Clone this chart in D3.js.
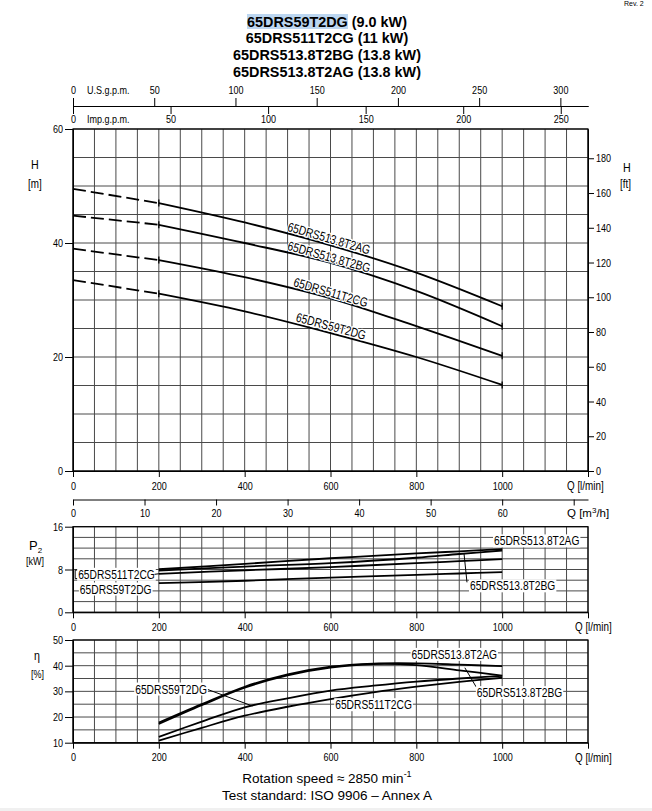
<!DOCTYPE html>
<html>
<head>
<meta charset="utf-8">
<script src="https://cdn.jsdelivr.net/npm/d3@7"></script>
<style>
  body { margin: 0; background: #fff; }
  .grid line { stroke: #4a4a4a; stroke-width: 1; }
  .curve { fill: none; stroke: #000; stroke-width: 1.8; }
</style>
</head>
<body>
<svg id="chart" width="652" height="811"></svg>
<script>
// ---- data ----
var models = ["65DRS513.8T2AG", "65DRS513.8T2BG", "65DRS511T2CG", "65DRS59T2DG"];
var titleNames = ["65DRS59T2DG", "65DRS511T2CG", "65DRS513.8T2BG", "65DRS513.8T2AG"];
var titlePowers = [" (9.0 kW)", " (11 kW)", " (13.8 kW)", " (13.8 kW)"];

// head curves, Q [l/min] -> H [m]
var qHead = [0, 200, 400, 600, 800, 1000];
var headAG = [49.5, 47.0, 43.6, 39.6, 34.8, 28.9];
var headBG = [44.8, 43.2, 40.0, 36.5, 31.6, 25.4];
var headCG = [39.0, 37.0, 34.0, 30.3, 25.4, 20.2];
var headDG = [33.5, 31.1, 28.0, 24.2, 20.0, 15.1];

// power P2 [kW]
var qPower = [200, 400, 600, 800, 900, 1000];
var powAG = [8.05, 9.05, 10.1, 11.0, 11.4, 11.8];
var powBG = [7.8, 8.55, 9.2, 10.2, 10.9, 11.55];
var powCG = [7.2, 7.85, 8.45, 9.2, 9.55, 9.95];
var powDG = [5.45, 5.9, 6.5, 7.0, 7.25, 7.5];

// efficiency [%]
var qEff = [200, 300, 400, 500, 600, 700, 800, 900, 1000];
var effAG = [17.8, 25.0, 31.8, 36.6, 39.6, 40.8, 40.9, 40.4, 39.8];
var effBG = [17.3, 24.6, 31.4, 36.2, 39.2, 40.6, 40.2, 38.2, 36.1];
var effCG = [10.8, 15.8, 20.5, 24.0, 27.0, 29.6, 31.8, 33.7, 35.3];
var effDG = [12.3, 18.2, 23.8, 27.3, 30.3, 32.2, 33.8, 35.0, 36.0];

// tick labels
var qTicks = [0, 200, 400, 600, 800, 1000, 1200];
var usTicks = [0, 50, 100, 150, 200, 250, 300];
var impTicks = [0, 50, 100, 150, 200, 250];
var m3hTicks = [0, 10, 20, 30, 40, 50, 60, 70];
var ftTicks = [0, 20, 40, 60, 80, 100, 120, 140, 160, 180];
var hTicks = [0, 20, 40, 60];
var pTicks = [0, 8, 16];
var eTicks = [10, 20, 30, 40, 50];

var NARROW = "'Liberation Sans Narrow','Arial Narrow','Liberation Sans',Arial,sans-serif";
var SANS = "'Liberation Sans',Arial,sans-serif";

var svg = d3.select("#chart");

// no narrow face installed, so squeeze the glyphs instead
function condense(sel, k) {
  sel.each(function() {
    var len = this.getComputedTextLength();
    if (len > 0) d3.select(this).attr("textLength", len * (k || 0.82)).attr("lengthAdjust", "spacingAndGlyphs");
  });
  return sel;
}

// scales
var x = d3.scaleLinear().domain([0, 1200]).range([73, 588]);
var xUs = d3.scaleLinear().domain([0, 1200 / 3.7854]).range([73, 588]);
var xImp = d3.scaleLinear().domain([0, 1200 / 4.5461]).range([73, 588]);
var xM3 = d3.scaleLinear().domain([0, 72]).range([73, 588]);
var yH = d3.scaleLinear().domain([0, 60]).range([471, 129]);
var yFt = d3.scaleLinear().domain([0, 60 / 0.3048]).range([471, 129]);
var yP = d3.scaleLinear().domain([0, 16]).range([612.3, 526.7]);
var yE = d3.scaleLinear().domain([10, 50]).range([742.7, 640]);

// ---- title ----
svg.append("rect").attr("x", 247).attr("y", 14).attr("width", 101).attr("height", 15).attr("fill", "#bcd6f0");
titleNames.forEach(function(n, i) {
  var t = svg.append("text").attr("x", 327).attr("y", 26.7 + i * 16.7)
    .attr("text-anchor", "middle").attr("font-family", SANS).attr("font-weight", "bold").attr("font-size", 14.4);
  t.append("tspan").text(n);
  t.append("tspan").text(titlePowers[i]);
});
svg.append("text").attr("x", 624).attr("y", 6).attr("font-family", SANS).attr("font-size", 7).text("Rev. 2");

function styleAxis(g, size) {
  g.attr("font-family", NARROW).attr("font-size", size);
  g.selectAll("line,path").attr("stroke", "#000");
  g.selectAll("text").attr("fill", "#000");
  condense(g.selectAll("text"));
  return g;
}

function grid(yScale, step) {
  var d = yScale.domain();
  var g = svg.append("g").attr("class", "grid");
  g.selectAll(".v").data(d3.range(0, 1201, 50)).join("line").attr("class", "v")
    .attr("x1", function(q) { return x(q); }).attr("x2", function(q) { return x(q); })
    .attr("y1", yScale(d[0])).attr("y2", yScale(d[1]));
  g.selectAll(".h").data(d3.range(d[0], d[1] + 0.001, step)).join("line").attr("class", "h")
    .attr("x1", x(0)).attr("x2", x(1200))
    .attr("y1", function(v) { return yScale(v); }).attr("y2", function(v) { return yScale(v); });
  svg.append("rect").attr("x", x(0)).attr("y", yScale(d[1]))
    .attr("width", x(1200) - x(0)).attr("height", yScale(d[0]) - yScale(d[1]))
    .attr("fill", "none").attr("stroke", "#000").attr("stroke-width", 1.2);
}

function bottomAxis(yScale, padding) {
  var y0 = yScale(yScale.domain()[0]);
  svg.append("g").attr("transform", "translate(0," + y0 + ")")
    .call(d3.axisBottom(x).tickValues(qTicks).tickFormat(function(d) { return d === 1200 ? "" : d; })
      .tickSize(6).tickPadding(padding).tickSizeOuter(0))
    .call(styleAxis, 11);
}

function leftAxis(yScale, ticks) {
  svg.append("g").attr("transform", "translate(" + x(0) + ",0)")
    .call(d3.axisLeft(yScale).tickValues(ticks).tickSize(8).tickPadding(2).tickSizeOuter(0))
    .call(styleAxis, 11);
}

function unitText(px, py, parts, size, squeeze) {
  var t = svg.append("text").attr("x", px).attr("y", py).attr("font-family", NARROW).attr("font-size", size || 11);
  parts.forEach(function(p) {
    var s = t.append("tspan").text(p[0]);
    if (p[1] === "sup") s.attr("font-size", 8).attr("dy", -4);
    if (p[1] === "sub") s.attr("font-size", 8).attr("dy", 3);
    if (p[1] === "back") s.attr("dy", 4);
  });
  if (squeeze !== false) condense(t);
  return t;
}

// ---- top flow axes ----
svg.append("g").attr("transform", "translate(0,106)")
  .call(d3.axisTop(xUs).tickValues(usTicks).tickSize(8).tickPadding(4).tickSizeOuter(0))
  .call(styleAxis, 11);
svg.append("g").attr("transform", "translate(0,106)")
  .call(d3.axisBottom(xImp).tickValues(impTicks).tickSize(8).tickPadding(1).tickSizeOuter(0))
  .call(styleAxis, 11);
unitText(87, 94, [["U.S.g.p.m."]], 11);
unitText(87, 123, [["Imp.g.p.m."]], 11);

// ---- head chart ----
grid(yH, 5);
leftAxis(yH, hTicks);
bottomAxis(yH, 5);
svg.append("g").attr("transform", "translate(" + x(1200) + ",0)")
  .call(d3.axisRight(yFt).tickValues(ftTicks).tickSize(6).tickPadding(2).tickSizeOuter(0))
  .call(styleAxis, 11);
unitText(567, 489.8, [["Q [l/min]"]], 12);
unitText(31, 169, [["H"]], 13);
unitText(28, 188, [["[m]"]], 12);
unitText(623, 172, [["H"]], 13);
unitText(620, 188, [["[ft]"]], 12);

var heads = [headAG, headBG, headCG, headDG];
var lineH = d3.line().x(function(d) { return x(d[0]); }).y(function(d) { return yH(d[1]); }).curve(d3.curveCatmullRom);
heads.forEach(function(h) {
  var pts = qHead.map(function(q, i) { return [q, h[i]]; });
  svg.append("path").attr("class", "curve").attr("stroke-dasharray", "13,5")
    .attr("d", lineH(pts.filter(function(p) { return p[0] <= 200; })));
  svg.append("path").attr("class", "curve")
    .attr("d", lineH(pts.filter(function(p) { return p[0] >= 200; })));
  [200, 1000].forEach(function(q) {
    var v = h[qHead.indexOf(q)];
    svg.append("line").attr("x1", x(q)).attr("x2", x(q))
      .attr("y1", yH(v) - 3.5).attr("y2", yH(v) + 3.5).attr("stroke", "#000").attr("stroke-width", 1.3);
  });
});

// rotated labels along head curves
var headLabelStart = [498, 498, 512, 518];
heads.forEach(function(h, i) {
  var interp = d3.scaleLinear().domain(qHead).range(h);
  var q0 = headLabelStart[i], q1 = q0 + 195;
  var x0 = x(q0), y0 = yH(interp(q0)), x1 = x(q1), y1 = yH(interp(q1));
  var ang = Math.atan2(y1 - y0, x1 - x0) * 180 / Math.PI;
  var t = svg.append("text")
    .attr("transform", "translate(" + x0 + "," + (y0 - 3) + ") rotate(" + ang + ")")
    .attr("font-family", NARROW).attr("font-size", 12.8)
    .attr("stroke", "#fff").attr("stroke-width", 2.5).attr("paint-order", "stroke")
    .text(models[i]);
  condense(t, 0.8);
});

// ---- m3/h axis ----
svg.append("g").attr("transform", "translate(0,499.5)")
  .call(d3.axisBottom(xM3).tickValues(m3hTicks).tickFormat(function(d) { return d === 70 ? "" : d; })
    .tickSize(6).tickPadding(4).tickSizeOuter(0))
  .call(styleAxis, 11);
unitText(567, 517.3, [["Q [m"], ["3", "sup"], ["/h]", "back"]], 11.5, false);

// ---- power chart ----
grid(yP, 2);
leftAxis(yP, pTicks);
bottomAxis(yP, 5);
unitText(575, 631, [["Q [l/min]"]], 12);
unitText(29, 550, [["P"], ["2", "sub"]], 13, false);
unitText(26, 565, [["[kW]"]], 11);

function boxLabel(text, q, cy, yScale) {
  var t = svg.append("text").attr("x", x(q)).attr("y", yScale(cy) + 4.5)
    .attr("font-family", NARROW).attr("font-size", 12.8).text(text);
  condense(t, 0.8);
  var b = t.node().getBBox();
  svg.insert("rect", function() { return t.node(); })
    .attr("x", b.x - 1).attr("y", b.y + 1).attr("width", b.width + 2).attr("height", b.height - 2)
    .attr("fill", "#fff");
  return b;
}
function pointer(q0, v0, q1, v1, yScale) {
  svg.append("line").attr("x1", x(q0)).attr("y1", yScale(v0)).attr("x2", x(q1)).attr("y2", yScale(v1))
    .attr("stroke", "#000").attr("stroke-width", 1);
}

var pows = [powAG, powBG, powCG, powDG];
var lineP = d3.line().x(function(d) { return x(d[0]); }).y(function(d) { return yP(d[1]); }).curve(d3.curveCatmullRom);
pows.forEach(function(p) {
  svg.append("path").attr("class", "curve").attr("stroke-width", 1.7)
    .attr("d", lineP(qPower.map(function(q, i) { return [q, p[i]]; })));
});
pointer(911, 11.05, 918, 5.6, yP);
pointer(5, 7.9, 5, 6.3, yP);
pointer(5, 7.9, 11, 7.9, yP);
pointer(5, 6.3, 11, 6.3, yP);
boxLabel(models[0], 981, 13.35, yP);
boxLabel(models[1], 925, 4.95, yP);
boxLabel(models[2], 12, 7.1, yP);
boxLabel(models[3], 16, 4.35, yP);
pointer(190, 7.1, 200, 7.2, yP);

// ---- efficiency chart ----
grid(yE, 5);
leftAxis(yE, eTicks);
bottomAxis(yE, 5);
unitText(575, 761.5, [["Q [l/min]"]], 12);
unitText(34, 660, [["\u03b7"]], 13);
unitText(31, 678, [["[%]"]], 11);

var effs = [effAG, effBG, effCG, effDG];
var lineE = d3.line().x(function(d) { return x(d[0]); }).y(function(d) { return yE(d[1]); }).curve(d3.curveCatmullRom);
effs.forEach(function(e) {
  svg.append("path").attr("class", "curve").attr("stroke-width", 1.7)
    .attr("d", lineE(qEff.map(function(q, i) { return [q, e[i]]; })));
});
pointer(913, 39.2, 942, 31.0, yE);
pointer(311, 30.9, 418, 24.3, yE);
boxLabel(models[0], 789, 44.4, yE);
boxLabel(models[1], 941, 29.5, yE);
boxLabel(models[2], 611, 24.8, yE);
boxLabel(models[3], 145, 30.9, yE);

// ---- footer ----
var f1 = svg.append("text").attr("x", 327).attr("y", 783).attr("text-anchor", "middle")
  .attr("font-family", SANS).attr("font-size", 13.5);
f1.append("tspan").text("Rotation speed \u2248 2850 min");
f1.append("tspan").attr("font-size", 9).attr("dy", -6).text("-1");
svg.append("text").attr("x", 327).attr("y", 800).attr("text-anchor", "middle")
  .attr("font-family", SANS).attr("font-size", 13.5).text("Test standard: ISO 9906 \u2013 Annex A");
svg.append("rect").attr("x", 0).attr("y", 808).attr("width", 652).attr("height", 3).attr("fill", "#f0f0f0");
</script>
</body>
</html>
